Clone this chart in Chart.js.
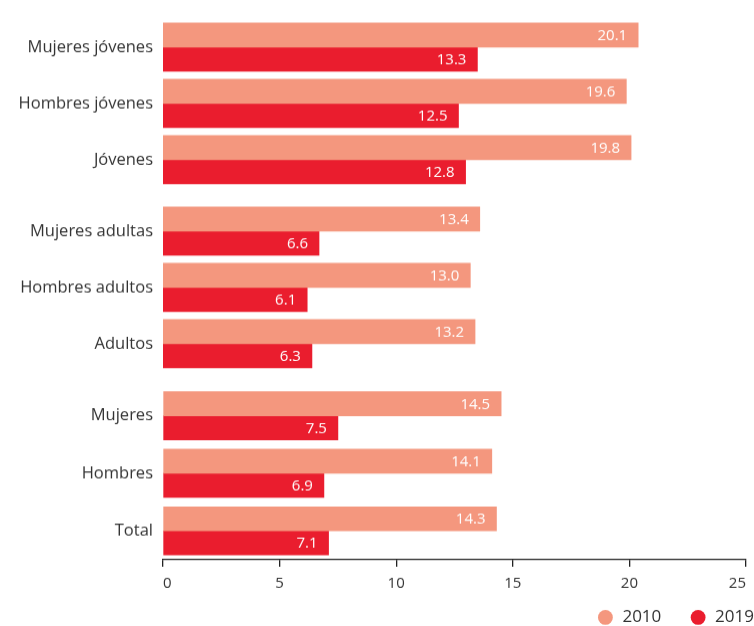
<!DOCTYPE html>
<html>
<head>
<meta charset="utf-8">
<script src="https://cdn.jsdelivr.net/npm/chart.js@4"></script>
<style>
  body { margin: 0; background: #fff; overflow: hidden; width: 754px; height: 626px; position: relative; }
  .box { position: absolute; left: 0; width: 754px; }
</style>
</head>
<body>
<!-- the y labels add ~9.9px padding above and below each plot, boxes are grown by that much -->
<div class="box" style="top:9.1px;height:187.8px"><canvas id="c1"></canvas></div>
<div class="box" style="top:193.1px;height:187.8px"><canvas id="c2"></canvas></div>
<div class="box" style="top:377.1px;height:257.9px"><canvas id="c3"></canvas></div>
<script>
const categories = ["Mujeres jóvenes", "Hombres jóvenes", "Jóvenes",
                    "Mujeres adultas", "Hombres adultos", "Adultos",
                    "Mujeres", "Hombres", "Total"];
const values2010 = [20.1, 19.6, 19.8, 13.4, 13.0, 13.2, 14.5, 14.1, 14.3];
const values2019 = [13.3, 12.5, 12.8, 6.6, 6.1, 6.3, 7.5, 6.9, 7.1];
const seriesNames = ["2010", "2019"];
const xTicks = [0, 5, 10, 15, 20, 25];
// three blocks of rows: jóvenes, adultos, total
const groups = [[0, 3], [3, 6], [6, 9]];

const FONT = '"Open Sans", sans-serif';
const TEXT = "#333";
const colors = ["#f4977e", "#ea1d2e"];

Chart.defaults.font.family = FONT;

// white value inside the end of each bar
const valueLabels = {
  id: "valueLabels",
  afterDatasetsDraw(chart) {
    const ctx = chart.ctx;
    ctx.save();
    ctx.fillStyle = "#fff";
    ctx.font = "15px " + FONT;
    ctx.textAlign = "right";
    ctx.textBaseline = "middle";
    chart.data.datasets.forEach((ds, i) => {
      chart.getDatasetMeta(i).data.forEach((bar, j) => {
        ctx.fillText(ds.data[j].toFixed(1), bar.x - 11, bar.y + 1);
      });
    });
    ctx.restore();
  }
};

function legendLabels(chart) {
  const items = Chart.defaults.plugins.legend.labels.generateLabels(chart);
  // extra room after the first entry
  items[0].text += "\u2003\u2002\u2009";
  return items;
}

function makeChart(id, g, last) {
  const [a, b] = g;
  return new Chart(document.getElementById(id), {
    type: "bar",
    data: {
      labels: categories.slice(a, b),
      datasets: [
        { label: seriesNames[0], data: values2010.slice(a, b), backgroundColor: colors[0], barThickness: 24 },
        { label: seriesNames[1], data: values2019.slice(a, b), backgroundColor: colors[1], barThickness: 24 }
      ]
    },
    options: {
      indexAxis: "y",
      responsive: true,
      maintainAspectRatio: false,
      animation: false,
      layout: { padding: 0 },
      plugins: {
        tooltip: { enabled: false },
        legend: {
          display: last,
          position: "bottom",
          align: "end",
          labels: {
            usePointStyle: true,
            pointStyle: "circle",
            boxWidth: 17,
            boxHeight: 10.5,
            padding: 0,
            color: TEXT,
            font: { size: 17 },
            generateLabels: legendLabels
          }
        }
      },
      scales: {
        x: {
          display: last,
          min: 0,
          max: 25,
          afterBuildTicks: s => { s.ticks = xTicks.map(v => ({ value: v })); },
          afterFit: s => { s.height = last ? 49 : 0; },
          border: { display: true, color: "#222", width: 1.3 },
          grid: { drawOnChartArea: false, drawTicks: true, tickLength: 7, color: "#222", lineWidth: 1.3 },
          ticks: { align: "inner", color: TEXT, padding: 8, font: { size: 15 } }
        },
        y: {
          afterFit: s => { s.width = 163; },
          border: { display: false },
          grid: { display: false, drawTicks: true, tickLength: 10 },
          ticks: { color: TEXT, padding: 0, font: { size: 16.5 } }
        }
      }
    },
    plugins: [valueLabels]
  });
}

makeChart("c1", groups[0], false);
makeChart("c2", groups[1], false);
makeChart("c3", groups[2], true);
</script>
</body>
</html>
